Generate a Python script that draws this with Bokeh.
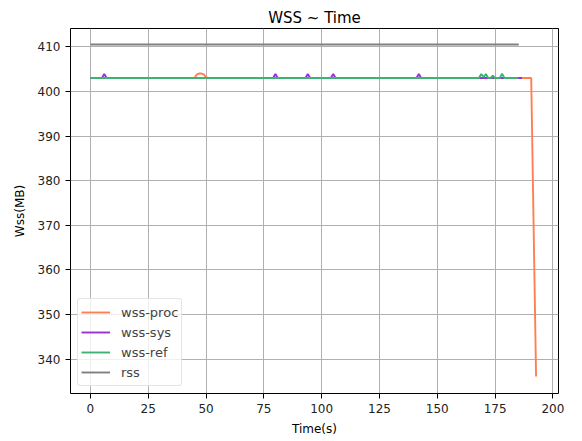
from bokeh.plotting import figure
from bokeh.models import Range1d, FixedTicker, Legend, LegendItem
from bokeh.embed import file_html
from bokeh.resources import INLINE

# ---- data ----
proc_t = [0, 45, 46, 47, 48, 49, 50, 51, 190.6, 192.7]
proc_v = [403, 403, 403.8, 404, 404, 403.8, 403.2, 403, 403, 336.1]

sys_t = [0, 5, 6, 7, 79, 80, 81, 93, 94, 95, 104, 105, 106, 141, 142, 143, 186.6]
sys_v = [403, 403, 403.9, 403, 403, 403.9, 403, 403, 403.9, 403, 403, 403.9, 403, 403, 403.9, 403, 403]

ref_t = [0, 168, 169, 170, 171, 172, 173, 174, 175, 177, 178, 179, 185]
ref_v = [403, 403, 403.9, 403.2, 403.9, 403, 403, 403.5, 403, 403, 404, 403, 403]

rss_t = [0, 185.2]
rss_v = [410.5, 410.5]

x_ticks = [0, 25, 50, 75, 100, 125, 150, 175, 200]
y_ticks = [340, 350, 360, 370, 380, 390, 400, 410]

FONT = "DejaVu Sans"

p = figure(width=582, height=441, output_backend="svg", toolbar_location=None,
           x_range=Range1d(-8.6, 202.4), y_range=Range1d(332.3, 414.1),
           min_border_left=70, min_border_right=24, min_border_top=28, min_border_bottom=48)

p.title.text = "WSS ~ Time"
p.title.align = "center"
p.title.text_font = FONT
p.title.text_font_size = "15px"
p.title.text_font_style = "normal"
p.title.text_color = "#000000"
p.title.standoff = 4

r1 = p.line(proc_t, proc_v, line_color="#FF7F50", line_width=1.9)
r2 = p.line(sys_t, sys_v, line_color="#9B30D9", line_width=1.9)
r3 = p.line(ref_t, ref_v, line_color="#3CB371", line_width=1.9)
r4 = p.line(rss_t, rss_v, line_color="#808080", line_width=1.9)

p.xaxis.ticker = FixedTicker(ticks=x_ticks)
p.yaxis.ticker = FixedTicker(ticks=y_ticks)
for ax in (p.xaxis[0], p.yaxis[0]):
    ax.major_label_text_font = FONT
    ax.major_label_text_font_size = "12px"
    ax.major_label_text_color = "#222222"
    ax.axis_label_text_font = FONT
    ax.axis_label_text_font_size = "12px"
    ax.axis_label_text_font_style = "normal"
    ax.axis_label_text_color = "#000000"
    ax.minor_tick_line_color = None
    ax.major_tick_out = 5
    ax.major_tick_in = 0
    ax.axis_line_color = None
    ax.major_tick_line_color = "#000000"
p.xaxis.axis_label = "Time(s)"
p.yaxis.axis_label = "Wss(MB)"
p.xaxis.axis_label_standoff = 6
p.yaxis.axis_label_standoff = 8

p.outline_line_color = "#000000"
p.outline_line_width = 1
p.outline_line_alpha = 1
p.grid.grid_line_color = "#b0b0b0"
p.grid.grid_line_width = 1

legend = Legend(items=[
    LegendItem(label="wss-proc", renderers=[r1]),
    LegendItem(label="wss-sys", renderers=[r2]),
    LegendItem(label="wss-ref", renderers=[r3]),
    LegendItem(label="rss", renderers=[r4]),
], location=(7, 7))
legend.margin = 0
legend.padding = 3
legend.spacing = 0
legend.glyph_width = 29
legend.glyph_height = 20
legend.label_height = 20
legend.label_standoff = 11
legend.label_text_font = FONT
legend.label_text_font_size = "13px"
legend.border_line_color = "#cccccc"
legend.border_radius = 3
legend.background_fill_alpha = 0.8
p.add_layout(legend, "center")

open("out.html", "w").write(file_html(p, INLINE))
